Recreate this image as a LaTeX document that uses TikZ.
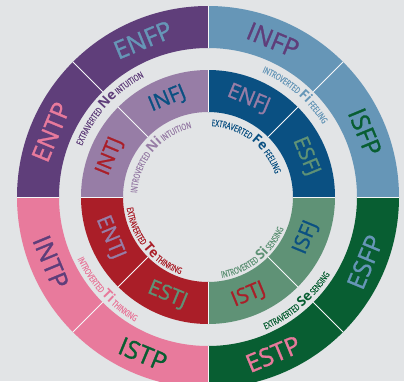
\documentclass[tikz,border=0pt]{standalone}
\usepackage{fontspec}
\setsansfont{Open Sans}
\newfontfamily\typefont{Open Sans}[FakeBold=1.2]
\newfontfamily\condfont{Open Sans}[FakeStretch=0.7,FakeBold=0.6]
\usetikzlibrary{decorations.text}
\definecolor{bg}{HTML}{E2E4E6}
\definecolor{purp}{HTML}{5F3E7A}
\definecolor{lblue}{HTML}{6696B7}
\definecolor{dgreen}{HTML}{085E32}
\definecolor{pink}{HTML}{E87A9C}
\definecolor{lpurp}{HTML}{977DA6}
\definecolor{dblue}{HTML}{0A5082}
\definecolor{sage}{HTML}{5F9276}
\definecolor{red}{HTML}{AA1E28}
\newcommand\smlbl{\condfont\fontsize{9}{9}\selectfont}
\newcommand\biglbl{\sffamily\bfseries\fontsize{13.5}{14}\selectfont}

\begin{document}
\begin{tikzpicture}[x=1pt,y=1pt,
   type label/.style={font=\typefont\fontsize{25}{25}\selectfont},
   inner label/.style={font=\typefont\fontsize{21}{21}\selectfont},
   divider/.style={draw=white!70!bg,line width=1pt},
   arc label/.style={decorate,decoration={text along path,text align=center,text color=#1}}]
\fill[bg] (-208,-184) rectangle (196,197);
\useasboundingbox (-208,-184) rectangle (196,197);
\clip (-208,-184) rectangle (196,197);
% rings
\foreach \a/\co/\ci in {90/purp/lpurp,0/lblue/dblue,-90/dgreen/sage,180/pink/red}{
  \fill[\co] (\a:191) arc[start angle=\a,delta angle=90,radius=191]
    -- ({\a+90}:149) arc[start angle=\a+90,delta angle=-90,radius=149] -- cycle;
  \fill[\ci] (\a:127) arc[start angle=\a,delta angle=90,radius=127]
    -- ({\a+90}:85) arc[start angle=\a+90,delta angle=-90,radius=85] -- cycle;
}
\foreach \a in {0,45,...,315}
  \draw[divider] (\a:85) -- (\a:127) (\a:149) -- (\a:191);
% types
\foreach \ang/\name/\col in {112.5/ENFP/lblue,157.5/ENTP/pink,67.5/INFP/purp,22.5/ISFP/dgreen,
    -22.5/ESFP/lblue,-67.5/ESTP/pink,-112.5/ISTP/dgreen,-157.5/INTP/purp}{
  \pgfmathsetmacro\rot{\ang>0 ? \ang-90 : \ang+90}
  \node[type label,text=\col,rotate=\rot] (\name) at (\ang:170) {\name};
}
\foreach \ang/\name/\col in {112.5/INFJ/dblue,157.5/INTJ/red,67.5/ENFJ/lpurp,22.5/ESFJ/sage,
    -22.5/ISFJ/dblue,-67.5/ISTJ/red,-112.5/ESTJ/sage,-157.5/ENTJ/lpurp}{
  \pgfmathsetmacro\rot{\ang>0 ? \ang-90 : \ang+90}
  \node[inner label,text=\col,rotate=\rot] (\name) at (\ang:106) {\name};
}
% functions
\path[arc label=purp,decoration={text={|\smlbl|EXTRAVERTED |\biglbl|Ne|\smlbl| INTUITION}}]
  (208:136) arc[start angle=208,delta angle=-140,radius=136];
\path[arc label=lblue,decoration={text={|\smlbl|INTROVERTED |\biglbl|Fi|\smlbl| FEELING}}]
  (119.5:136) arc[start angle=119.5,delta angle=-140,radius=136];
\path[arc label=dgreen,decoration={text={|\smlbl|EXTRAVERTED |\biglbl|Se|\smlbl| SENSING}}]
  (-119.5:144.5) arc[start angle=-119.5,delta angle=140,radius=144.5];
\path[arc label=pink,decoration={text={|\smlbl|INTROVERTED |\biglbl|Ti|\smlbl| THINKING}}]
  (-207.5:144.5) arc[start angle=-207.5,delta angle=140,radius=144.5];
\path[arc label=lpurp,decoration={text={|\smlbl|INTROVERTED |\biglbl|Ni|\smlbl| INTUITION}}]
  (210:71) arc[start angle=210,delta angle=-140,radius=71];
\path[arc label=dblue,decoration={text={|\smlbl|EXTRAVERTED |\biglbl|Fe|\smlbl| FEELING}}]
  (123:71) arc[start angle=123,delta angle=-140,radius=71];
\path[arc label=sage,decoration={text={|\smlbl|INTROVERTED |\biglbl|Si|\smlbl| SENSING}}]
  (-121.5:82) arc[start angle=-121.5,delta angle=140,radius=82];
\path[arc label=red,decoration={text={|\smlbl|EXTRAVERTED |\biglbl|Te|\smlbl| THINKING}}]
  (-211:82) arc[start angle=-211,delta angle=140,radius=82];
\end{tikzpicture}
\end{document}
